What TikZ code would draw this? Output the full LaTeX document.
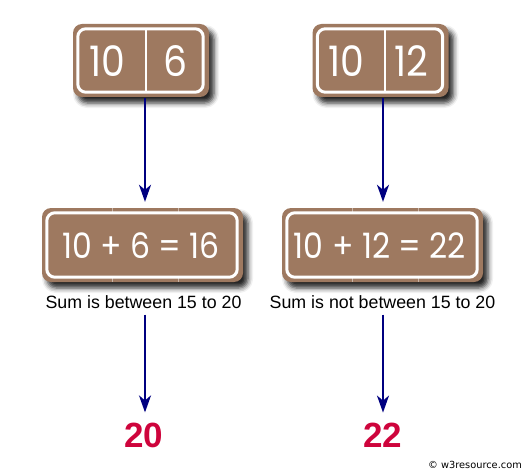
\documentclass[tikz,border=0pt]{standalone}
\usepackage{fontspec}
\setmainfont{Liberation Sans}
\newfontfamily\boxfont[FakeStretch=0.9]{Poppins}
\newfontfamily\copyfont{DejaVu Sans}
\usetikzlibrary{arrows.meta,shadows.blur,calc}
\definecolor{boxbrown}{RGB}{158,121,96}
\definecolor{arrownavy}{RGB}{0,0,128}
\definecolor{resred}{RGB}{206,4,60}
\begin{document}
\begin{tikzpicture}[x=1pt,y=-1pt,
  outerbox/.style={fill=boxbrown, rounded corners=9pt, inner sep=0pt,
    blur shadow={shadow xshift=5pt,shadow yshift=-6pt,shadow blur radius=5pt,shadow opacity=85}},
  innerframe/.style={draw=white, line width=3pt, rounded corners=8pt},
  divider/.style={draw=white, line width=1.5pt},
  faintdiv/.style={draw=white, draw opacity=0.45, line width=0.8pt},
  bignum/.style={text=white, font=\boxfont\fontsize{42}{46}\selectfont, inner sep=0pt},
  sumtext/.style={text=white, font=\boxfont\fontsize{35}{40}\selectfont, inner sep=0pt},
  caption/.style={font=\fontsize{17.8}{20}\selectfont, inner sep=0pt},
  result/.style={text=resred, font=\bfseries\fontsize{35}{40}\selectfont, inner sep=0pt},
  arr/.style={draw=arrownavy, line width=2pt, -{Stealth[length=17pt,width=12pt,inset=5pt]}}
]
\useasboundingbox (0,0) rectangle (527,473);

% ---- top boxes ----
\node[outerbox, minimum width=136pt, minimum height=73pt] (ta) at (141,60.5) {};
\draw[innerframe] ($(ta.north west)+(5,5)$) rectangle ($(ta.south east)+(-6,-5)$);
\draw[divider] ($(ta.north)+(5,5)$) -- ($(ta.south)+(5,-5)$);
\node[bignum] (ta1) at (107.5,61) {10};
\node[bignum] (ta2) at (175,61) {6};

\node[outerbox, minimum width=136pt, minimum height=73pt] (tb) at (380.5,60.5) {};
\draw[innerframe] ($(tb.north west)+(5,5)$) rectangle ($(tb.south east)+(-6,-5)$);
\draw[divider] ($(tb.north)+(4.5,5)$) -- ($(tb.south)+(4.5,-5)$);
\node[bignum] (tb1) at (346.7,61) {10};
\node[bignum] (tb2) at (411.7,61) {12};

% ---- middle boxes ----
\node[outerbox, minimum width=201pt, minimum height=74pt] (ma) at (142.5,245) {};
\foreach \dx in {-30.5,35.5}{
  \draw[faintdiv] ($(ma.north)+(\dx,0.5)$) -- ($(ma.north)+(\dx,5)$);
  \draw[faintdiv] ($(ma.south)+(\dx,-5)$) -- ($(ma.south)+(\dx,-0.5)$);
}
\draw[innerframe] ($(ma.north west)+(5,5)$) rectangle ($(ma.south east)+(-6,-5)$);
\node[sumtext] (mat) at (141,246) {10 + 6 = 16};

\node[outerbox, minimum width=201pt, minimum height=74pt] (mb) at (382.5,245) {};
\foreach \dx in {-30.5,35.5}{
  \draw[faintdiv] ($(mb.north)+(\dx,0.5)$) -- ($(mb.north)+(\dx,5)$);
  \draw[faintdiv] ($(mb.south)+(\dx,-5)$) -- ($(mb.south)+(\dx,-0.5)$);
}
\draw[innerframe] ($(mb.north west)+(5,5)$) rectangle ($(mb.south east)+(-6,-5)$);
\node[sumtext] (mbt) at (380,246) {10 + 12 = 22};

% ---- captions ----
\node[caption] (la) at (143.5,302) {Sum is between 15 to 20};
\node[caption] (lb) at (382.5,302) {Sum is not between 15 to 20};

% ---- results ----
\node[result] (ra) at (144,435) {20};
\node[result] (rb) at (383,435) {22};

% ---- arrows ----
\coordinate (ta-out) at ($(ta.south)+(4,1)$);
\coordinate (tb-out) at ($(tb.south)+(2.5,1)$);
\draw[arr, shorten >=6pt] (ta-out) -- (ta-out |- ma.north);
\draw[arr, shorten >=6pt] (tb-out) -- (tb-out |- mb.north);
\coordinate (la-out) at ($(la.south)+(1.5,0)$);
\coordinate (lb-out) at ($(lb.south)+(0.5,0)$);
\draw[arr, shorten <=6pt, shorten >=10pt] (la-out) -- (la-out |- ra.north);
\draw[arr, shorten <=6pt, shorten >=10pt] (lb-out) -- (lb-out |- rb.north);

% ---- copyright ----
\node[font=\copyfont\fontsize{9.8}{11}\selectfont, inner sep=0pt] (copy) at (475,465) {© w3resource.com};
\end{tikzpicture}
\end{document}
